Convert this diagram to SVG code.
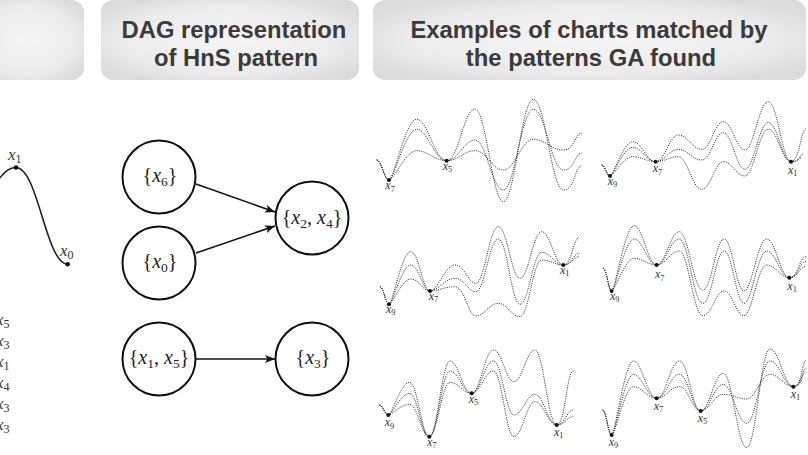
<svg xmlns="http://www.w3.org/2000/svg" width="808" height="455" viewBox="0 0 808 455">
<defs>
<radialGradient id="hg" cx="50%" cy="50%" r="60%">
<stop offset="0" stop-color="#f6f6f6"/>
<stop offset="0.7" stop-color="#ebebeb"/>
<stop offset="1" stop-color="#dcdcdc"/>
</radialGradient>
<marker id="arr" viewBox="0 0 10 8" refX="10" refY="4" markerWidth="10" markerHeight="8" markerUnits="userSpaceOnUse" orient="auto">
<path d="M0,0 L10,4 L0,8 L2.5,4 z" fill="#111"/>
</marker>
</defs>
<style>
.hdr{fill:url(#hg);}
.ttl{font-family:"Liberation Sans",Arial,sans-serif;font-weight:bold;font-size:23.8px;fill:#3b3b3b;text-anchor:middle;}
.node circle{fill:#fff;stroke:#111;stroke-width:2;}
.lbl{font-family:"Liberation Serif","DejaVu Serif",serif;font-size:20px;fill:#222;text-anchor:middle;}
.v{font-style:italic;}
.sb{font-size:13.5px;}
.edge{stroke:#111;stroke-width:1.6;fill:none;marker-end:url(#arr);}
.ml{font-family:"Liberation Serif","DejaVu Serif",serif;font-size:17px;fill:#333;}
.ms{font-size:12px;}
.crv{fill:none;stroke:#333;stroke-width:3;stroke-dasharray:3.2 3.6;}
.dot{fill:#111;}
.cl{font-family:"Liberation Serif","DejaVu Serif",serif;font-size:36px;font-style:italic;fill:#333;}
.cs{font-size:25px;font-style:normal;}
</style>
<rect width="808" height="455" fill="#fff"/>

<!-- headers -->
<rect class="hdr" x="-30" y="0" width="114" height="80" rx="12"/>
<rect class="hdr" x="101" y="0" width="258" height="80" rx="12"/>
<rect class="hdr" x="373" y="0" width="433" height="80" rx="12"/>
<text class="ttl" x="234" y="38">DAG representation</text>
<text class="ttl" x="236" y="66">of HnS pattern</text>
<text class="ttl" x="589" y="38">Examples of charts matched by</text>
<text class="ttl" x="591" y="66">the patterns GA found</text>

<!-- left partial panel -->
<path d="M-6,185 C4,172 9,167.5 16,167.5 C38,167.5 46,264.3 67.7,264.3" fill="none" stroke="#222" stroke-width="1.6"/>
<circle class="dot" cx="16" cy="167.5" r="2.3"/>
<circle class="dot" cx="67.7" cy="264.3" r="2.3"/>
<text class="ml" x="8" y="160"><tspan class="v">x</tspan><tspan class="ms" dy="3">1</tspan></text>
<text class="ml" x="60" y="256"><tspan class="v">x</tspan><tspan class="ms" dy="3">0</tspan></text>
<text class="ml" x="-4" y="325"><tspan class="v">x</tspan><tspan class="ms" dy="3">5</tspan></text>
<text class="ml" x="-4" y="346"><tspan class="v">x</tspan><tspan class="ms" dy="3">3</tspan></text>
<text class="ml" x="-4" y="367"><tspan class="v">x</tspan><tspan class="ms" dy="3">1</tspan></text>
<text class="ml" x="-4" y="388"><tspan class="v">x</tspan><tspan class="ms" dy="3">4</tspan></text>
<text class="ml" x="-4" y="409"><tspan class="v">x</tspan><tspan class="ms" dy="3">3</tspan></text>
<text class="ml" x="-4" y="430"><tspan class="v">x</tspan><tspan class="ms" dy="3">3</tspan></text>

<!-- DAG connectors -->
<g id="connectors">
<line class="edge" x1="196" y1="184" x2="275" y2="212"/>
<line class="edge" x1="196" y1="253" x2="275" y2="226"/>
<line class="edge" x1="196" y1="359" x2="275" y2="359"/>
</g>

<!-- DAG nodes -->
<g id="n-x6" class="node"><circle cx="159" cy="177" r="36.5"/>
<text class="lbl" x="160" y="182">{<tspan class="v">x</tspan><tspan class="sb" dy="4">6</tspan><tspan dy="-4">}</tspan></text></g>
<g id="n-x0" class="node"><circle cx="159" cy="263" r="36.5"/>
<text class="lbl" x="160" y="268">{<tspan class="v">x</tspan><tspan class="sb" dy="4">0</tspan><tspan dy="-4">}</tspan></text></g>
<g id="n-x2x4" class="node"><circle cx="312" cy="218" r="36.5"/>
<text class="lbl" x="312" y="224">{<tspan class="v">x</tspan><tspan class="sb" dy="4">2</tspan><tspan dy="-4">, </tspan><tspan class="v">x</tspan><tspan class="sb" dy="4">4</tspan><tspan dy="-4">}</tspan></text></g>
<g id="n-x1x5" class="node"><circle cx="159" cy="359" r="36.5"/>
<text class="lbl" x="159" y="364">{<tspan class="v">x</tspan><tspan class="sb" dy="4">1</tspan><tspan dy="-4">, </tspan><tspan class="v">x</tspan><tspan class="sb" dy="4">5</tspan><tspan dy="-4">}</tspan></text></g>
<g id="n-x3" class="node"><circle cx="312" cy="359" r="36.5"/>
<text class="lbl" x="313" y="364">{<tspan class="v">x</tspan><tspan class="sb" dy="4">3</tspan><tspan dy="-4">}</tspan></text></g>

<!-- chart 1 -->
<g transform="translate(370,90) scale(0.33333)">
<path class="crv" d="M20,210 C34.8,210 42.2,270 57,270 S106.8,88 140,88 S194,212 230,212 S281,57 315,57 S366,335 400,335 S454,28 490,28 S544,300 580,300 S613,228 635,228"/>
<path class="crv" d="M20,210 C34.8,210 42.2,270 57,270 S106.8,118 140,118 S194,212 230,212 S281,150 315,150 S366,300 400,300 S454,58 490,58 S544,240 580,240 S613,190 635,190"/>
<path class="crv" d="M20,210 C34.8,210 42.2,270 57,270 S106.8,182 140,182 S194,212 230,212 S281,182 315,182 S366,240 400,240 S454,148 490,148 S544,180 580,180 S613,130 635,130"/>
<circle class="dot" cx="57" cy="270" r="6"/><circle class="dot" cx="230" cy="212" r="6"/>
<text class="cl" x="46" y="298">x<tspan class="cs" dy="7">7</tspan></text>
<text class="cl" x="218" y="240">x<tspan class="cs" dy="7">5</tspan></text>
</g>

<!-- chart 2 -->
<g transform="translate(590,90) scale(0.33333)">
<path class="crv" d="M35,225 C45,225 50,258 60,258 S100.8,155 128,155 S169.4,215 197,215 S237.8,135 265,135 S307,178 335,178 S374,95 400,95 S439,180 465,180 S507,35 535,35 S575.8,215 603,215 S631.2,115 650,115"/>
<path class="crv" d="M35,225 C45,225 50,258 60,258 S100.8,172 128,172 S169.4,215 197,215 S237.8,178 265,178 S307,210 335,210 S374,128 400,128 S439,238 465,238 S507,98 535,98 S575.8,215 603,215 S626,195 640,192"/>
<path class="crv" d="M35,225 C45,225 50,258 60,258 S100.8,200 128,200 S169.4,215 197,215 S237.8,200 265,200 S307,298 335,298 S374,215 400,215 S439,258 465,258 S507,118 535,118 S575.8,215 603,215 S622,205 635,203"/>
<circle class="dot" cx="60" cy="258" r="6"/><circle class="dot" cx="197" cy="215" r="6"/><circle class="dot" cx="603" cy="215" r="6"/>
<text class="cl" x="53" y="284">x<tspan class="cs" dy="7">9</tspan></text>
<text class="cl" x="188" y="247">x<tspan class="cs" dy="7">7</tspan></text>
<text class="cl" x="594" y="252">x<tspan class="cs" dy="7">1</tspan></text>
</g>

<!-- chart 3 -->
<g transform="translate(370,215) scale(0.33333)">
<path class="crv" d="M30,215 C40.8,215 46.2,268 57,268 S96,110 122,110 S156.8,228 180,228 S225,150 255,150 S292.8,205 318,205 S358.2,35 385,35 S424,190 450,190 S489,50 515,50 S554,150 580,150 S608.8,68 628,68"/>
<path class="crv" d="M30,215 C40.8,215 46.2,268 57,268 S96,150 122,150 S156.8,228 180,228 S225,190 255,190 S292.8,230 318,230 S358.2,72 385,72 S424,268 450,268 S489,112 515,112 S554,150 580,150 S608.8,115 628,115"/>
<path class="crv" d="M30,215 C40.8,215 46.2,268 57,268 S96,192 122,192 S156.8,228 180,228 S225,215 255,215 S292.8,303 318,303 S358.2,265 385,265 S424,305 450,305 S489,135 515,135 S554,150 580,150 S608.8,125 628,125"/>
<circle class="dot" cx="57" cy="268" r="6"/><circle class="dot" cx="180" cy="228" r="6"/><circle class="dot" cx="580" cy="150" r="6"/>
<text class="cl" x="48" y="294">x<tspan class="cs" dy="7">9</tspan></text>
<text class="cl" x="176" y="254">x<tspan class="cs" dy="7">7</tspan></text>
<text class="cl" x="570" y="177">x<tspan class="cs" dy="7">1</tspan></text>
</g>

<!-- chart 4 -->
<g transform="translate(590,215) scale(0.33333)">
<path class="crv" d="M40,160 C50,160 55,228 65,228 S105.2,32 132,32 S172.8,150 200,150 S240.8,50 268,50 S310,225 338,225 S376.4,72 402,72 S438,228 462,228 S502.8,72 530,72 S570.8,188 598,188 S628,125 648,125"/>
<path class="crv" d="M40,160 C50,160 55,228 65,228 S105.2,72 132,72 S172.8,150 200,150 S240.8,72 268,72 S310,265 338,265 S376.4,108 402,108 S438,265 462,265 S502.8,108 530,108 S570.8,188 598,188 S628,140 648,140"/>
<path class="crv" d="M40,160 C50,160 55,228 65,228 S105.2,130 132,130 S172.8,150 200,150 S240.8,108 268,108 S310,302 338,302 S376.4,228 402,228 S438,302 462,302 S502.8,150 530,150 S570.8,188 598,188 S628,155 648,155"/>
<circle class="dot" cx="65" cy="228" r="6"/><circle class="dot" cx="200" cy="150" r="6"/><circle class="dot" cx="598" cy="188" r="6"/>
<text class="cl" x="60" y="254">x<tspan class="cs" dy="7">9</tspan></text>
<text class="cl" x="195" y="190">x<tspan class="cs" dy="7">7</tspan></text>
<text class="cl" x="592" y="224">x<tspan class="cs" dy="7">1</tspan></text>
</g>

<!-- charts 5 and 6 -->
<g transform="translate(370,335) scale(0.33333)">
<path class="crv" d="M28,210 C38.8,210 44.2,240 55,240 S92.8,142 118,142 S154,305 178,305 S215.2,78 240,78 S279,175 305,175 S344,45 370,45 S407.2,140 432,140 S469.8,45 495,45 S534,270 560,270 S590,108 610,108"/>
<path class="crv" d="M28,210 C38.8,210 44.2,240 55,240 S92.8,175 118,175 S154,305 178,305 S215.2,108 240,108 S279,175 305,175 S344,78 370,78 S407.2,240 432,240 S469.8,178 495,178 S534,270 560,270 S590,225 610,225"/>
<path class="crv" d="M28,210 C38.8,210 44.2,240 55,240 S92.8,208 118,208 S154,305 178,305 S215.2,142 240,142 S279,175 305,175 S344,108 370,108 S407.2,305 432,305 S469.8,200 495,200 S534,270 560,270 S590,245 610,245"/>
<circle class="dot" cx="55" cy="240" r="6"/><circle class="dot" cx="178" cy="305" r="6"/><circle class="dot" cx="305" cy="175" r="6"/><circle class="dot" cx="560" cy="270" r="6"/>
<text class="cl" x="44" y="274">x<tspan class="cs" dy="7">9</tspan></text>
<text class="cl" x="171" y="332">x<tspan class="cs" dy="7">7</tspan></text>
<text class="cl" x="296" y="204">x<tspan class="cs" dy="7">5</tspan></text>
<text class="cl" x="552" y="302">x<tspan class="cs" dy="7">1</tspan></text>

<path class="crv" d="M698,225 C708.8,225 714.2,300 725,300 S764,78 790,78 S832,190 860,190 S900.8,78 928,78 S966.4,228 992,228 S1032.8,115 1060,115 S1102,338 1130,338 S1172,42 1200,42 S1242,155 1270,155 S1294,75 1310,75"/>
<path class="crv" d="M698,225 C708.8,225 714.2,300 725,300 S764,118 790,118 S832,190 860,190 S900.8,118 928,118 S966.4,228 992,228 S1032.8,148 1060,148 S1102,265 1130,265 S1172,78 1200,78 S1242,155 1270,155 S1294,100 1310,100"/>
<path class="crv" d="M698,225 C708.8,225 714.2,300 725,300 S764,155 790,155 S832,190 860,190 S900.8,155 928,155 S966.4,228 992,228 S1032.8,178 1060,178 S1102,192 1130,192 S1172,118 1200,118 S1242,155 1270,155 S1294,110 1310,110"/>
<circle class="dot" cx="725" cy="300" r="6"/><circle class="dot" cx="860" cy="190" r="6"/><circle class="dot" cx="992" cy="228" r="6"/><circle class="dot" cx="1270" cy="155" r="6"/>
<text class="cl" x="716" y="332">x<tspan class="cs" dy="7">9</tspan></text>
<text class="cl" x="851" y="224">x<tspan class="cs" dy="7">7</tspan></text>
<text class="cl" x="983" y="260">x<tspan class="cs" dy="7">5</tspan></text>
<text class="cl" x="1262" y="189">x<tspan class="cs" dy="7">1</tspan></text>
</g>
</svg>
